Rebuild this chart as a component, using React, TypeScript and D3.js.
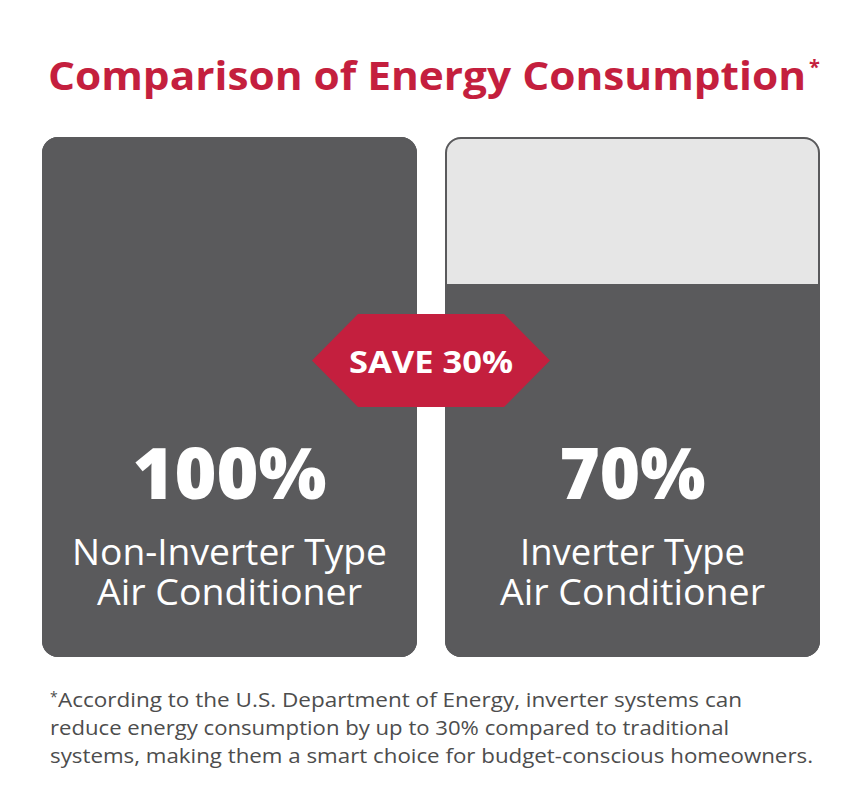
import React from "react";
import * as d3 from "d3";

const categories = ["Non-Inverter Type\nAir Conditioner", "Inverter Type\nAir Conditioner"];
const values = [100, 70];
const valueLabels = ["100%", "70%"];
const saveLabel = "SAVE 30%";
const title = "Comparison of Energy Consumption";
const footnote = [
  "According to the U.S. Department of Energy, inverter systems can",
  "reduce energy consumption by up to 30% compared to traditional",
  "systems, making them a smart choice for budget-conscious homeowners.",
];

const W = 859;
const H = 811;
const RED = "#c41f3e";
const DARK = "#5a5a5c";
const LIGHT = "#e6e6e6";
const FONT = "'Open Sans', 'Noto Sans', sans-serif";

// text widths measured on the reference (layout only)
const labelLens = [[315, 265], [225, 265]];
const footLens = [684, 679, 763];
const footX = [58, 50, 50];

export default function App() {
  const x = d3.scaleBand<string>().domain(categories).range([42, 820]).paddingInner(0.0695).paddingOuter(0);
  const boxTop = 137;
  const boxBottom = 657;
  const y = d3.scaleLinear().domain([0, 100]).range([627, boxTop]);
  const r = 16;
  const bw = x.bandwidth();

  const roundedBox = (x0: number, y0: number, w: number, h: number, rad: number) => {
    const p = d3.path();
    p.moveTo(x0 + rad, y0);
    p.lineTo(x0 + w - rad, y0);
    p.arcTo(x0 + w, y0, x0 + w, y0 + rad, rad);
    p.lineTo(x0 + w, y0 + h - rad);
    p.arcTo(x0 + w, y0 + h, x0 + w - rad, y0 + h, rad);
    p.lineTo(x0 + rad, y0 + h);
    p.arcTo(x0, y0 + h, x0, y0 + h - rad, rad);
    p.lineTo(x0, y0 + rad);
    p.arcTo(x0, y0, x0 + rad, y0, rad);
    p.closePath();
    return p.toString();
  };

  const midX = (x(categories[0])! + bw + x(categories[1])!) / 2;
  const cy = 360.5;
  const hex: [number, number][] = [
    [midX - 119, cy],
    [midX - 73, cy - 46.5],
    [midX + 73, cy - 46.5],
    [midX + 119, cy],
    [midX + 73, cy + 46.5],
    [midX - 73, cy + 46.5],
  ];
  const line = d3.line();

  return (
    <svg width={W} height={H} style={{ display: "block", position: "absolute", left: 0, top: 0 }}>
      <rect width={W} height={H} fill="#fff" />
      <text x={48} y={90} fill={RED} fontFamily={FONT} fontWeight={700} fontSize={40} textLength={758} lengthAdjust="spacingAndGlyphs">
        {title}
      </text>
      <text x={809} y={74} fill={RED} fontFamily={FONT} fontWeight={700} fontSize={20}>*</text>
      <defs>
        {categories.map((c, i) => (
          <clipPath id={`clip${i}`} key={c}>
            <path d={roundedBox(x(c)!, boxTop, bw, boxBottom - boxTop, r)} />
          </clipPath>
        ))}
      </defs>
      {categories.map((c, i) => {
        const x0 = x(c)!;
        const yv = y(values[i]);
        const cx = x0 + bw / 2;
        const lines = c.split("\n");
        return (
          <g key={c}>
            <g clipPath={`url(#clip${i})`}>
              <rect x={x0} y={boxTop} width={bw} height={boxBottom - boxTop} fill={LIGHT} />
              <rect x={x0} y={yv} width={bw} height={boxBottom - yv} fill={DARK} />
            </g>
            <path d={roundedBox(x0 + 1, boxTop + 1, bw - 2, boxBottom - boxTop - 2, r - 1)} fill="none" stroke={DARK} strokeWidth={2} />
            <text x={cx} y={499} textAnchor="middle" fill="#fff" fontFamily={FONT} fontWeight={800} fontSize={70} textLength={i === 0 ? 194 : 146} lengthAdjust="spacingAndGlyphs">
              {valueLabels[i]}
            </text>
            <text textAnchor="middle" fill="#fff" fontFamily={FONT} fontWeight={400} fontSize={36}>
              {lines.map((l, j) => (
                <tspan key={l} x={cx} y={565 + j * 40} textLength={labelLens[i][j]} lengthAdjust="spacingAndGlyphs">
                  {l}
                </tspan>
              ))}
            </text>
          </g>
        );
      })}
      <path d={line(hex)! + "Z"} fill={RED} />
      <text x={midX} y={373} textAnchor="middle" fill="#fff" fontFamily={FONT} fontWeight={700} fontSize={31} textLength={164} lengthAdjust="spacingAndGlyphs">
        {saveLabel}
      </text>
      {footnote.map((l, i) => (
        <text key={i} x={footX[i]} y={707 + i * 28} fill="#4d4d4d" fontFamily={FONT} fontSize={20} textLength={footLens[i]} lengthAdjust="spacingAndGlyphs">
          {l}
        </text>
      ))}
      <text x={50} y={702} fill="#4d4d4d" fontFamily={FONT} fontSize={14}>*</text>
    </svg>
  );
}
